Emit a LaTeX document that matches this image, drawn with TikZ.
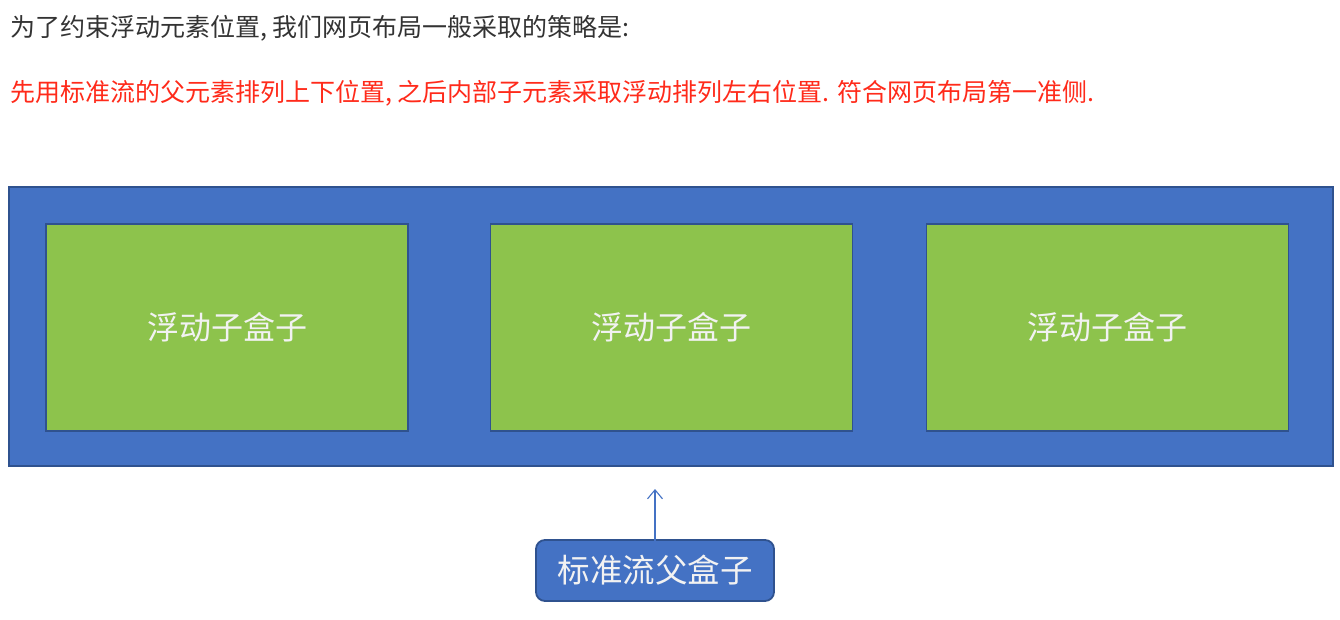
\documentclass[tikz,border=0pt]{standalone}
\usepackage{fontspec}
\setmainfont{Noto Sans CJK SC}
\usetikzlibrary{arrows.meta}
\definecolor{parentblue}{HTML}{4472C4}
\definecolor{edgeblue}{HTML}{2F528F}
\definecolor{childgreen}{HTML}{8DC34C}
\definecolor{leadgray}{HTML}{333333}
\definecolor{notered}{HTML}{FF2A1A}
\definecolor{labelwhite}{HTML}{F2F2F2}
\tikzset{
  parentbox/.style={draw=edgeblue, line width=2pt, fill=parentblue},
  childbox/.style={draw=edgeblue, line width=1.8pt, fill=childgreen, text=labelwhite,
    font=\fontsize{32}{38}\selectfont, minimum width=362pt, minimum height=207pt, inner sep=0pt},
  tagbox/.style={draw=edgeblue, line width=1.8pt, fill=parentblue, rounded corners=9pt, text=labelwhite,
    font=\fontsize{32.5}{38}\selectfont, minimum width=238pt, minimum height=61pt, inner sep=0pt},
  linetext/.style={anchor=west, inner sep=0pt, font=\fontsize{25}{30}\selectfont},
  pointer/.style={draw=parentblue, line width=1.1pt, -{Straight Barb[length=9pt,width=15pt]}}
}
\begin{document}
\begin{tikzpicture}[x=1pt,y=-1pt]
\useasboundingbox (0,0) rectangle (1340,620);
\node[linetext, text=leadgray] (lead) at (10,28) {为了约束浮动元素位置, 我们网页布局一般采取的策略是:};
\node[linetext, text=notered] (rule) at (10,93) {先用标准流的父元素排列上下位置, 之后内部子元素采取浮动排列左右位置. 符合网页布局第一准侧.};
\node[parentbox, minimum width=1324pt, minimum height=279pt, inner sep=0pt] (parent) at (671,326.5) {};
\node[childbox] (c1) at (227,327.5) {浮动子盒子};
\node[childbox] (c2) at (671.5,327.5) {浮动子盒子};
\node[childbox] (c3) at (1107.5,327.5) {浮动子盒子};
\node[tagbox] (tag) at (655,570.5) {标准流父盒子};
\draw[pointer] ([yshift=-15pt]tag.north) -- ([yshift=-22pt]parent.south -| tag.north);
\end{tikzpicture}
\end{document}
